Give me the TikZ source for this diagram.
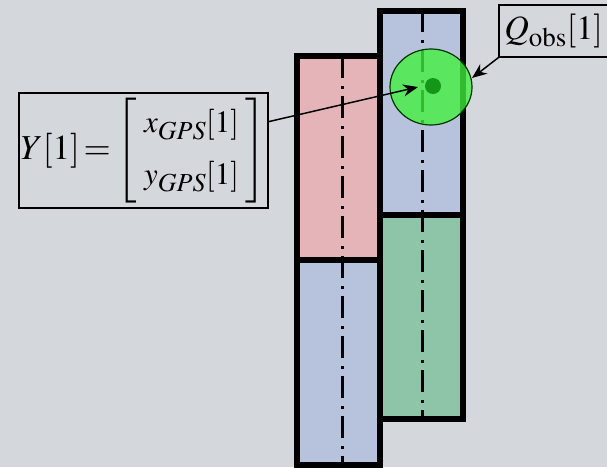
\documentclass[tikz,border=0pt]{standalone}
\usepackage{amsmath}
\usepackage{mathptmx}
\usetikzlibrary{arrows.meta}

\definecolor{bgray}{RGB}{212,216,220}
\definecolor{cellred}{RGB}{228,180,184}
\definecolor{cellblue}{RGB}{183,195,220}
\definecolor{cellgreen}{RGB}{142,196,168}
\definecolor{zonegreen}{RGB}{65,240,60}
\definecolor{obsgreen}{RGB}{20,150,25}

\newcommand{\gps}{\mbox{\fontsize{26}{26}\selectfont$GPS$}}

\begin{document}
\begin{tikzpicture}[x=1pt, y=-1pt, >={Stealth[length=15pt,width=12pt]},
  cell/.style={line width=6pt},
  axisline/.style={line width=3pt, dash pattern=on 22pt off 8pt on 3pt off 7pt},
  labelbox/.style={draw, line width=1.3pt, inner sep=0pt, fill=bgray},
  pointer/.style={->, line width=1.5pt}]
  \useasboundingbox (0,0) rectangle (607,467);
  \fill[bgray] (0,0) rectangle (607,467);
  % the two columns of cells
  \fill[cellred]   (297,56) rectangle (380,260);
  \fill[cellblue]  (297,260) rectangle (380,465);
  \fill[cellblue]  (380,11) rectangle (463,215);
  \fill[cellgreen] (380,215) rectangle (463,419);
  % centre lines
  \draw[axisline] (342,56) -- (342,465);
  \draw[axisline] (422,10) -- (422,419);
  % cell borders
  \draw[cell] (297,56) rectangle (380,260);
  \draw[cell] (297,260) rectangle (380,465);
  \draw[cell] (380,11) rectangle (463,215);
  \draw[cell] (380,215) rectangle (463,419);
  % observation zone and the observed point
  \draw[line width=1.2pt, fill=zonegreen, fill opacity=0.78, draw=black!80!green]
    (431,87) ellipse [x radius=41, y radius=38];
  \fill[obsgreen] (433,86) circle [radius=8];
  % labels
  \node[labelbox, minimum width=249pt, minimum height=115pt] (ybox) at (143.5,150.5)
    {\fontsize{35}{40}\selectfont $Y[1]\mkern-2mu=\mkern-1mu\left[\mbox{\fontsize{31}{36}\selectfont
      $\begin{array}{@{\hspace{7pt}}c@{\hspace{7pt}}} x_{\gps}[1]\\[16pt] y_{\gps}[1]\end{array}$}\right]$};
  \node[labelbox, minimum width=115pt, minimum height=52pt] (qbox) at (556.5,31)
    {\fontsize{34}{40}\selectfont\hspace{-6pt}$Q_{\mbox{\fontsize{27}{27}\selectfont$\mathrm{obs}$}}[1]$};
  \coordinate (ytip) at (418,87);
  \coordinate (qtip) at (472,78);
  \draw[pointer] (ybox) -- (ytip);
  \draw[pointer] (qbox.south west) -- (qtip);
\end{tikzpicture}
\end{document}
